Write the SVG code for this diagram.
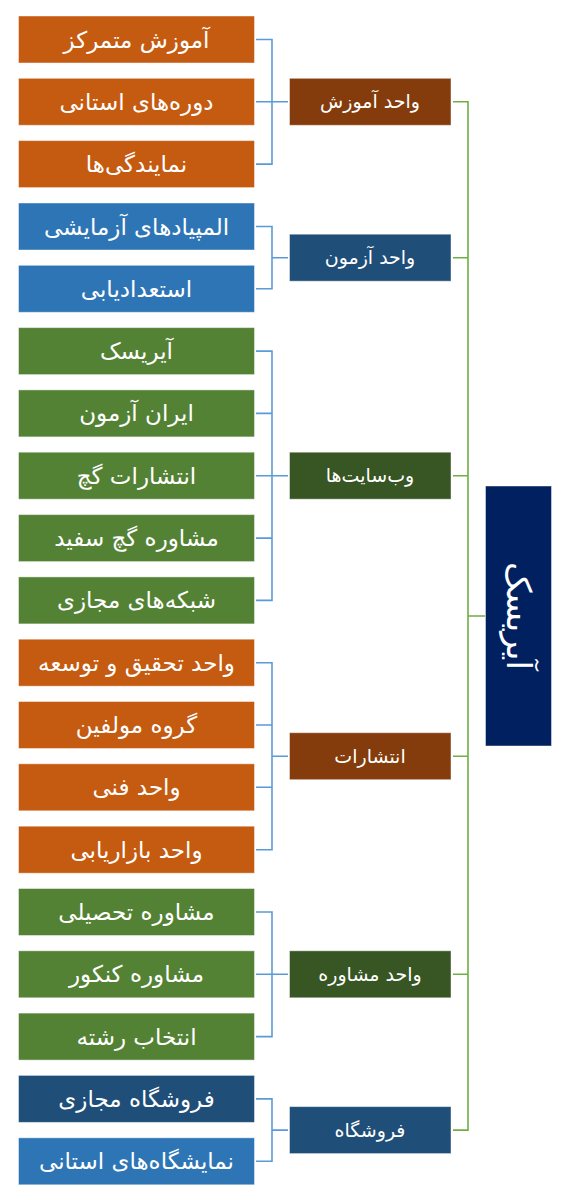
<svg xmlns="http://www.w3.org/2000/svg" width="574" height="1200" viewBox="0 0 574 1200">
<style>
.box{stroke:#ffffff;stroke-opacity:0.45;stroke-width:1}
.leaf text{font-family:"DejaVu Sans",sans-serif;font-size:23px;fill:#fff;text-anchor:middle}
.mid text{font-family:"DejaVu Sans",sans-serif;font-size:19px;fill:#fff;text-anchor:middle}
.or{fill:#C55A11}.br{fill:#843C0C}.bl{fill:#2E75B6}.db{fill:#1F4E79}.gr{fill:#548235}.dg{fill:#375623}.nv{fill:#002060}
.cb{fill:none;stroke:#5B9BD5;stroke-width:1.6}
.cg{fill:none;stroke:#70AD47;stroke-width:1.6}
</style>
<rect width="574" height="1200" fill="#ffffff"/>
<g id="connectors">
<path class="cb" d="M256 39.5H272V164.1H256M256 101.8H288"/>
<path class="cb" d="M256 226.5H272V288.8H256M272 257.7H288"/>
<path class="cb" d="M256 351.1H272V600.4H256M256 413.4H272M256 475.7H288M256 538.1H272"/>
<path class="cb" d="M256 662.7H272V849.7H256M256 725H272M256 787.3H272M272 756.2H288"/>
<path class="cb" d="M256 912H272V1036.6H256M256 974.3H288"/>
<path class="cb" d="M256 1098.9H272V1161.3H256M272 1130.1H288"/>
<path class="cg" d="M453 101.8H468V1130.1H453M453 257.7H468M453 475.7H468M453 756.2H468M453 974.3H468M468 616H485"/>
</g>
<g id="root"><rect class="box nv" x="485.5" y="486" width="66" height="260"/>
<text transform="translate(518.5 616) rotate(90)" font-family="DejaVu Sans,sans-serif" font-size="34" fill="#fff" text-anchor="middle" dy="0.35em">آیریسک</text></g>
<g id="mid1" class="mid"><rect class="box br" x="289.5" y="78.3" width="161.5" height="47"/><text x="370" y="101.8" dy="0.35em">واحد آموزش</text></g>
<g id="mid2" class="mid"><rect class="box db" x="289.5" y="234.2" width="161.5" height="47"/><text x="370" y="257.7" dy="0.35em">واحد آزمون</text></g>
<g id="mid3" class="mid"><rect class="box dg" x="289.5" y="452.2" width="161.5" height="47"/><text x="370" y="475.7" dy="0.35em">وب‌سایت‌ها</text></g>
<g id="mid4" class="mid"><rect class="box br" x="289.5" y="732.7" width="161.5" height="47"/><text x="370" y="756.2" dy="0.35em">انتشارات</text></g>
<g id="mid5" class="mid"><rect class="box dg" x="289.5" y="950.8" width="161.5" height="47"/><text x="370" y="974.3" dy="0.35em">واحد مشاوره</text></g>
<g id="mid6" class="mid"><rect class="box db" x="289.5" y="1106.6" width="161.5" height="47"/><text x="370" y="1130.1" dy="0.35em">فروشگاه</text></g>
<g id="leaf1" class="leaf"><rect class="box or" x="18.5" y="16" width="236" height="47"/><text x="136.5" y="39.5" dy="0.35em">آموزش متمرکز</text></g>
<g id="leaf2" class="leaf"><rect class="box or" x="18.5" y="78.3" width="236" height="47"/><text x="136.5" y="101.8" dy="0.35em">دوره‌های استانی</text></g>
<g id="leaf3" class="leaf"><rect class="box or" x="18.5" y="140.6" width="236" height="47"/><text x="136.5" y="164.1" dy="0.35em">نمایندگی‌ها</text></g>
<g id="leaf4" class="leaf"><rect class="box bl" x="18.5" y="203" width="236" height="47"/><text x="136.5" y="226.5" dy="0.35em">المپیادهای آزمایشی</text></g>
<g id="leaf5" class="leaf"><rect class="box bl" x="18.5" y="265.3" width="236" height="47"/><text x="136.5" y="288.8" dy="0.35em">استعدادیابی</text></g>
<g id="leaf6" class="leaf"><rect class="box gr" x="18.5" y="327.6" width="236" height="47"/><text x="136.5" y="351.1" dy="0.35em">آیریسک</text></g>
<g id="leaf7" class="leaf"><rect class="box gr" x="18.5" y="389.9" width="236" height="47"/><text x="136.5" y="413.4" dy="0.35em">ایران آزمون</text></g>
<g id="leaf8" class="leaf"><rect class="box gr" x="18.5" y="452.2" width="236" height="47"/><text x="136.5" y="475.7" dy="0.35em">انتشارات گچ</text></g>
<g id="leaf9" class="leaf"><rect class="box gr" x="18.5" y="514.6" width="236" height="47"/><text x="136.5" y="538.1" dy="0.35em">مشاوره گچ سفید</text></g>
<g id="leaf10" class="leaf"><rect class="box gr" x="18.5" y="576.9" width="236" height="47"/><text x="136.5" y="600.4" dy="0.35em">شبکه‌های مجازی</text></g>
<g id="leaf11" class="leaf"><rect class="box or" x="18.5" y="639.2" width="236" height="47"/><text x="136.5" y="662.7" dy="0.35em">واحد تحقیق و توسعه</text></g>
<g id="leaf12" class="leaf"><rect class="box or" x="18.5" y="701.5" width="236" height="47"/><text x="136.5" y="725" dy="0.35em">گروه مولفین</text></g>
<g id="leaf13" class="leaf"><rect class="box or" x="18.5" y="763.8" width="236" height="47"/><text x="136.5" y="787.3" dy="0.35em">واحد فنی</text></g>
<g id="leaf14" class="leaf"><rect class="box or" x="18.5" y="826.2" width="236" height="47"/><text x="136.5" y="849.7" dy="0.35em">واحد بازاریابی</text></g>
<g id="leaf15" class="leaf"><rect class="box gr" x="18.5" y="888.5" width="236" height="47"/><text x="136.5" y="912" dy="0.35em">مشاوره تحصیلی</text></g>
<g id="leaf16" class="leaf"><rect class="box gr" x="18.5" y="950.8" width="236" height="47"/><text x="136.5" y="974.3" dy="0.35em">مشاوره کنکور</text></g>
<g id="leaf17" class="leaf"><rect class="box gr" x="18.5" y="1013.1" width="236" height="47"/><text x="136.5" y="1036.6" dy="0.35em">انتخاب رشته</text></g>
<g id="leaf18" class="leaf"><rect class="box db" x="18.5" y="1075.4" width="236" height="47"/><text x="136.5" y="1098.9" dy="0.35em">فروشگاه مجازی</text></g>
<g id="leaf19" class="leaf"><rect class="box bl" x="18.5" y="1137.8" width="236" height="47"/><text x="136.5" y="1161.3" dy="0.35em">نمایشگاه‌های استانی</text></g>
</svg>
